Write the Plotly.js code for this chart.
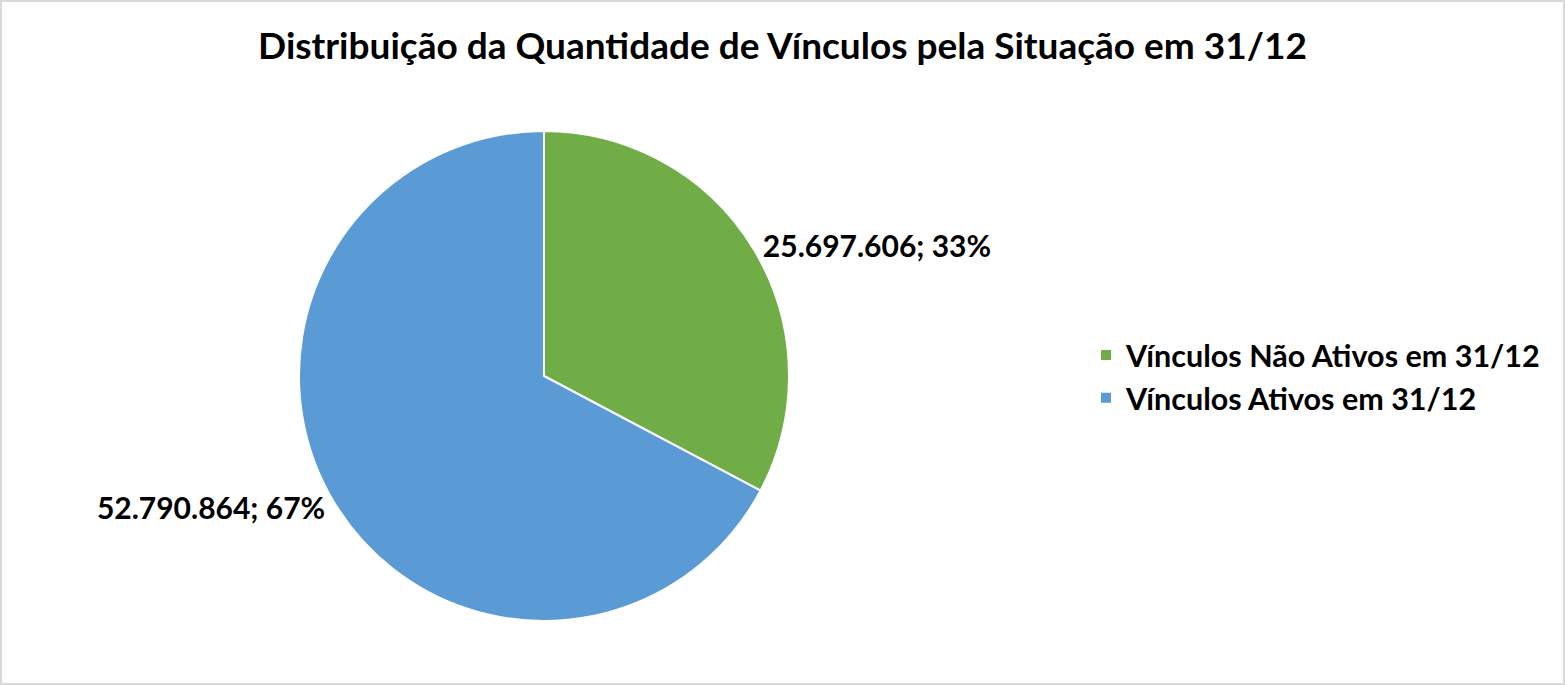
<!DOCTYPE html>
<html>
<head>
<meta charset="utf-8">
<script src="https://cdn.plot.ly/plotly-3.0.1.min.js"></script>
<style>
html,body{margin:0;padding:0;background:#fff;}
#wrap{position:relative;width:1565px;height:685px;}
#chart{width:1565px;height:685px;}
#frame{position:absolute;left:0;top:0;width:1565px;height:685px;box-sizing:border-box;border:2px solid #d9d9d9;pointer-events:none;}
</style>
</head>
<body>
<div id="wrap"><div id="chart"></div><div id="frame"></div></div>
<script>
const categories = ["Vínculos Não Ativos em 31/12", "Vínculos Ativos em 31/12"];
const values = [25697606, 52790864];
const colors = ["#70ad47", "#5b9bd5"];
const titleText = "Distribuição da Quantidade de Vínculos pela Situação em 31/12";

const W = 1565, H = 685;
const fontFam = "Lato, 'Open Sans', sans-serif";

const trace = {
  type: "pie",
  labels: categories,
  values: values,
  sort: false,
  direction: "clockwise",
  rotation: 0,
  marker: {colors: colors, line: {color: "#ffffff", width: 2}},
  texttemplate: "%{value:,}; %{percent:.0%}",
  textposition: "outside",
  textfont: {family: fontFam, size: 30, color: "#000000", weight: "bold"},
  hoverinfo: "label+value+percent",
  domain: {x: [299 / W, 789 / W], y: [64 / H, 554 / H]},
  automargin: false
};

const layout = {
  width: W, height: H,
  margin: {l: 0, r: 0, t: 0, b: 0},
  paper_bgcolor: "#ffffff",
  separators: ",.",
  title: {
    text: "<b>" + titleText + "</b>",
    font: {family: fontFam, size: 37, color: "#000000"},
    x: 0.5, xanchor: "center", y: 1 - 46 / H, yanchor: "middle"
  },
  showlegend: true,
  legend: {
    x: 1086 / W, xanchor: "left", y: 0.45, yanchor: "middle",
    font: {family: fontFam, size: 30.5, color: "#000000", weight: "bold"},
    bgcolor: "rgba(0,0,0,0)",
    traceorder: "normal"
  }
};

Plotly.newPlot("chart", [trace], layout, {displayModeBar: false, staticPlot: true});
</script>
</body>
</html>
